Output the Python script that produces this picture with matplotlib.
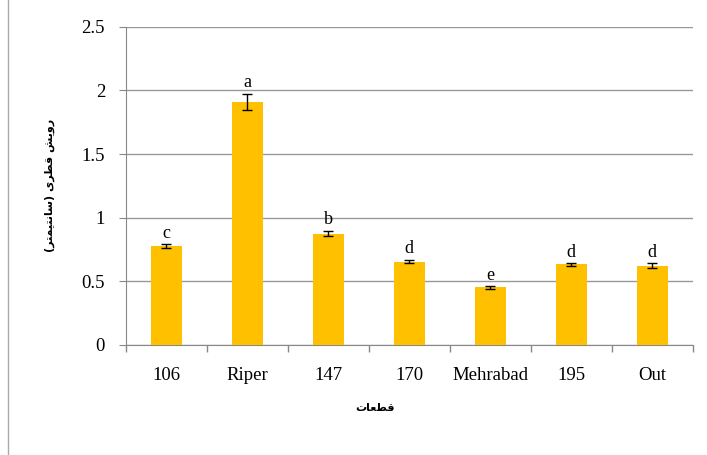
import matplotlib.pyplot as plt
from matplotlib.lines import Line2D

# data
sites = ['106', 'Riper', '147', '170', 'Mehrabad', '195', 'Out']
growth = [0.775, 1.91, 0.875, 0.655, 0.452, 0.632, 0.622]
err = [0.015, 0.065, 0.02, 0.015, 0.01, 0.01, 0.02]
letters = ['c', 'a', 'b', 'd', 'e', 'd', 'd']

# Persian labels, pre-shaped (presentation forms, visual order) since matplotlib has no bidi
ylab = ('(\uFEAE\uFE98\uFEE4\uFEF4\uFE98\uFEE7\uFE8E\uFEB3) '
        '\uFEEF\uFEAE\uFEC4\uFED7 \uFEB6\uFEF3\uFEED\uFEAD')
xlab = '\uFE95\uFE8E\uFECC\uFEC4\uFED7'

fig = plt.figure(figsize=(7.07, 4.55), dpi=100)
ax = fig.add_axes([0.178, 0.242, 0.802, 0.699])

x = range(len(sites))
ax.bar(x, growth, width=0.38, color='#FFC000', zorder=3)
ax.errorbar(x, growth, yerr=err, fmt='none', ecolor='black', elinewidth=1,
            capsize=3.5, capthick=1, zorder=4)
for i in x:
    ax.text(i, growth[i] + err[i] + 0.02, letters[i], ha='center', va='bottom',
            fontsize=13, family='Liberation Serif')

ax.set_xlim(-0.5, len(sites) - 0.5)
ax.set_ylim(0, 2.5)
ax.set_yticks([0, 0.5, 1, 1.5, 2, 2.5])
ax.set_yticklabels(['0', '0.5', '1', '1.5', '2', '2.5'])
ax.set_xticks(list(x))
ax.set_xticklabels(sites)
ax.set_xticks([i - 0.5 for i in range(len(sites) + 1)], minor=True)
ax.tick_params(axis='x', which='major', length=0, pad=16)
ax.tick_params(axis='x', which='minor', length=5, color='#888888', width=1)
ax.tick_params(axis='y', length=5, color='#888888', pad=10)
for lab in ax.get_xticklabels() + ax.get_yticklabels():
    lab.set_family('Liberation Serif')
    lab.set_fontsize(13.5)

ax.yaxis.grid(True, color='#999999', linewidth=1, zorder=0)
for s in ['top', 'right']:
    ax.spines[s].set_visible(False)
for s in ['left', 'bottom']:
    ax.spines[s].set_color('#888888')

fig.text(0.071, 0.592, ylab, rotation=90, ha='center', va='center',
         fontsize=8, fontweight='bold', family='DejaVu Sans')
fig.text(0.53, 0.103, xlab, ha='center', va='center',
         fontsize=8, fontweight='bold', family='DejaVu Sans')

fig.add_artist(Line2D([0.012, 0.012], [0, 1], transform=fig.transFigure,
                      color='#aaaaaa', linewidth=1))

fig.savefig('out.png', dpi=100)
